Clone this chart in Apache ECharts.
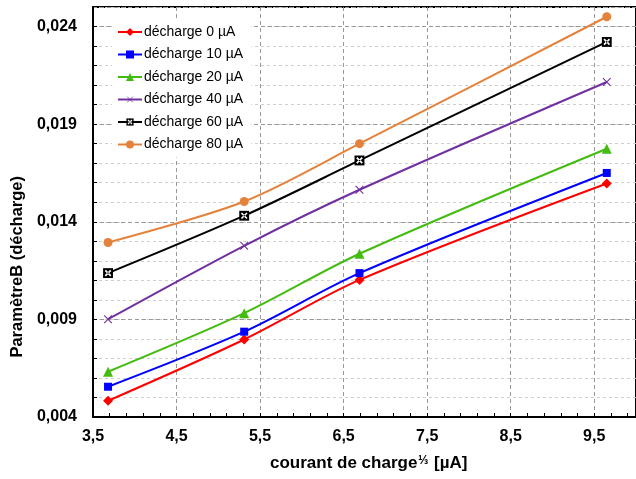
<!DOCTYPE html>
<html>
<head>
<meta charset="utf-8">
<script src="https://cdn.jsdelivr.net/npm/echarts@6/dist/echarts.min.js"></script>
<style>html,body{margin:0;padding:0;background:#fff;}#c{width:636px;height:479px;}</style>
</head>
<body>
<div id="c"></div>
<script>
// Data
const xValues = [3.68, 5.31, 6.69, 9.65];
const seriesNames = ['décharge 0 µA', 'décharge 10 µA', 'décharge 20 µA', 'décharge 40 µA', 'décharge 60 µA', 'décharge 80 µA'];
const d0  = [0.00483, 0.00797, 0.01102, 0.01596];
const d10 = [0.00555, 0.00837, 0.01137, 0.01650];
const d20 = [0.00632, 0.00932, 0.01236, 0.01774];
const d40 = [0.00901, 0.01277, 0.01564, 0.02116];
const d60 = [0.01137, 0.01431, 0.01714, 0.02321];
const d80 = [0.01294, 0.01504, 0.01800, 0.02450];
const xTickLabels = ['3,5', '4,5', '5,5', '6,5', '7,5', '8,5', '9,5'];
const yTickLabels = ['0,004', '0,009', '0,014', '0,019', '0,024'];

const colors = ['#ff0000', '#0000ff', '#44bb11', '#7030a0', '#000000', '#e4823c'];
const svgUrl = s => 'image://data:image/svg+xml;charset=utf-8,' + encodeURIComponent(s);
const xSym = svgUrl("<svg xmlns='http://www.w3.org/2000/svg' width='20' height='20'><path d='M3 3L17 17M17 3L3 17' stroke='#7030a0' stroke-width='2'/></svg>");
const boxXSym = svgUrl("<svg xmlns='http://www.w3.org/2000/svg' width='20' height='20'><rect x='1' y='1' width='18' height='18' fill='#000'/><path d='M5 5L15 15M15 5L5 15' stroke='#fff' stroke-width='3'/><circle cx='10' cy='10' r='1.5' fill='#000'/></svg>");
const symbols = ['diamond', 'rect', 'triangle', xSym, boxXSym, 'circle'];
const symSizes = [10, 8, 10, 11, 11, 9];
const allData = [d0, d10, d20, d40, d60, d80];

const font = "'Liberation Sans', Arial, Helvetica, sans-serif";
const chart = echarts.init(document.getElementById('c'));

function near(a, b) { return Math.abs(a - b) < 1e-6; }

const series = allData.map((arr, i) => ({
  name: seriesNames[i],
  type: 'line',
  xAxisIndex: 0,
  yAxisIndex: 0,
  data: arr.map((v, j) => [xValues[j], v]),
  smooth: 0.3,
  symbol: symbols[i],
  symbolSize: symSizes[i],
  lineStyle: { color: colors[i], width: 2 },
  itemStyle: { color: colors[i] },
  z: 3
}));

chart.setOption({
  animation: false,
  backgroundColor: '#fff',
  grid: { left: 93, top: 7, right: -4, bottom: 62, show: true, borderColor: '#000', borderWidth: 2, backgroundColor: 'transparent' },
  legend: {
    orient: 'vertical', left: 112, top: 20,
    data: seriesNames,
    itemWidth: 24, itemHeight: 10, itemGap: 8.5,
    padding: [5, 8, 6, 5],
    backgroundColor: '#fff',
    textStyle: { fontFamily: font, fontSize: 14, color: '#000', padding: [0, 0, 0, -3] }
  },
  xAxis: [{
    type: 'value', min: 3.5, max: 10, interval: 0.2,
    axisLine: { show: true, onZero: false, lineStyle: { color: '#000', width: 2 } },
    axisTick: { show: true, inside: true, length: 4, lineStyle: { color: '#000' } },
    axisLabel: {
      margin: 12, fontFamily: font, fontSize: 16, fontWeight: 'bold', color: '#000', showMaxLabel: false,
      formatter: v => { for (let k = 0; k < xTickLabels.length; k++) { if (near(v, 3.5 + k)) return xTickLabels[k]; } return ''; }
    },
    splitLine: { show: false }
  }, {
    type: 'value', min: 3.5, max: 10, interval: 1, position: 'bottom',
    axisLine: { show: false }, axisTick: { show: false }, axisLabel: { show: false },
    splitLine: { show: true, lineStyle: { color: '#999', type: [4, 3], width: 1 } }
  }],
  yAxis: [{
    type: 'value', min: 0.004, max: 0.025, interval: 0.001, position: 'left',
    axisLine: { show: true, onZero: false, lineStyle: { color: '#000', width: 2 } },
    axisTick: { show: true, inside: true, length: 4, lineStyle: { color: '#000' } },
    axisLabel: {
      margin: 16, fontFamily: font, fontSize: 16, fontWeight: 'bold', color: '#000', showMaxLabel: false,
      formatter: v => { for (let k = 0; k < yTickLabels.length; k++) { if (near(v, 0.004 + 0.005 * k)) return yTickLabels[k]; } return ''; }
    },
    splitLine: { show: true, lineStyle: { color: '#cfcfcf', type: [3, 3], width: 1 } }
  }, {
    type: 'value', min: 0.004, max: 0.025, interval: 0.005, position: 'left',
    axisLine: { show: false }, axisTick: { show: false }, axisLabel: { show: false },
    splitLine: { show: true, lineStyle: { color: '#999', type: [4, 3], width: 1 } }
  }],
  graphic: [{
    type: 'text', left: 9, top: 176, rotation: Math.PI / 2,
    style: { text: 'ParamètreB (décharge)', font: "bold 16.5px " + font, fill: '#000' }
  }, {
    type: 'text', left: 270, top: 455,
    style: {
      text: 'courant de charge{s|⅓} [µA]', font: "bold 17px " + font, fill: '#000',
      rich: { s: { font: "bold 12px " + font, fill: '#000', verticalAlign: 'top', padding: [0, 1, 4, 1] } }
    }
  }],
  series: series
});
</script>
</body>
</html>
